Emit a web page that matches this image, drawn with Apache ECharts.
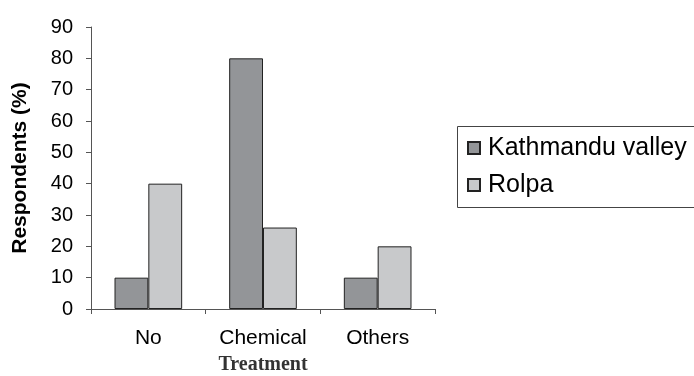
<!DOCTYPE html>
<html><head><meta charset="utf-8">
<script src="https://cdn.jsdelivr.net/npm/echarts@6/dist/echarts.min.js"></script>
<style>html,body{margin:0;padding:0;background:#fff}#c{width:694px;height:376px}</style>
</head><body><div id="c"></div>
<script>
const categories = ['No', 'Chemical', 'Others'];
const kathmandu = [10, 80, 10];
const rolpa = [40, 26, 20];
const seriesNames = ['Kathmandu valley', 'Rolpa'];
const yTicks = [0, 10, 20, 30, 40, 50, 60, 70, 80, 90];

const chart = echarts.init(document.getElementById('c'), null, {renderer: 'canvas'});
const F = '"Liberation Sans", Arial, sans-serif';
chart.setOption({
  animation: false,
  grid: {left: 91, right: 259, top: 27, bottom: 67, containLabel: false, outerBoundsMode: 'none'},
  graphic: [{
    type: 'rect', z: 0, silent: true,
    shape: {x: 457.5, y: 126.5, width: 300, height: 81},
    style: {fill: 'none', stroke: '#444', lineWidth: 1}
  }],
  legend: {
    orient: 'vertical', left: 457, top: 126,
    padding: [9, 10, 10, 10],
    borderWidth: 0,
    itemWidth: 12, itemHeight: 12, itemGap: 11,
    icon: 'rect',
    textStyle: {fontFamily: F, fontSize: 25, color: '#000', lineHeight: 26, padding: [0,0,0,3]},
    data: seriesNames
  },
  xAxis: {
    type: 'category', data: categories,
    name: 'Treatment', nameLocation: 'middle', nameGap: 46,
    nameTextStyle: {fontFamily: '"Liberation Serif", "DejaVu Serif", serif', fontSize: 20, fontWeight: 'bold', color: '#333'},
    axisLine: {lineStyle: {color: '#555', width: 1}},
    axisTick: {show: true, length: 5, lineStyle: {color: '#555'}},
    axisLabel: {fontFamily: F, fontSize: 21, color: '#000', margin: 19}
  },
  yAxis: {
    type: 'value', min: yTicks[0], max: yTicks[yTicks.length - 1], interval: 10,
    name: 'Respondents (%)', nameLocation: 'middle', nameGap: 60,
    nameTextStyle: {fontFamily: F, fontSize: 21, fontWeight: 'bold', color: '#000'},
    axisLine: {show: true, lineStyle: {color: '#555', width: 1}},
    axisTick: {show: true, length: 5, lineStyle: {color: '#555'}},
    splitLine: {show: false},
    axisLabel: {fontFamily: F, fontSize: 20, color: '#000', margin: 18}
  },
  series: [
    {name: seriesNames[0], type: 'bar', data: kathmandu, barGap: '0%', barCategoryGap: '41%',
     itemStyle: {color: '#939598', borderColor: '#222', borderWidth: 1}},
    {name: seriesNames[1], type: 'bar', data: rolpa,
     itemStyle: {color: '#c8c9cb', borderColor: '#222', borderWidth: 1}}
  ]
});
</script></body></html>
